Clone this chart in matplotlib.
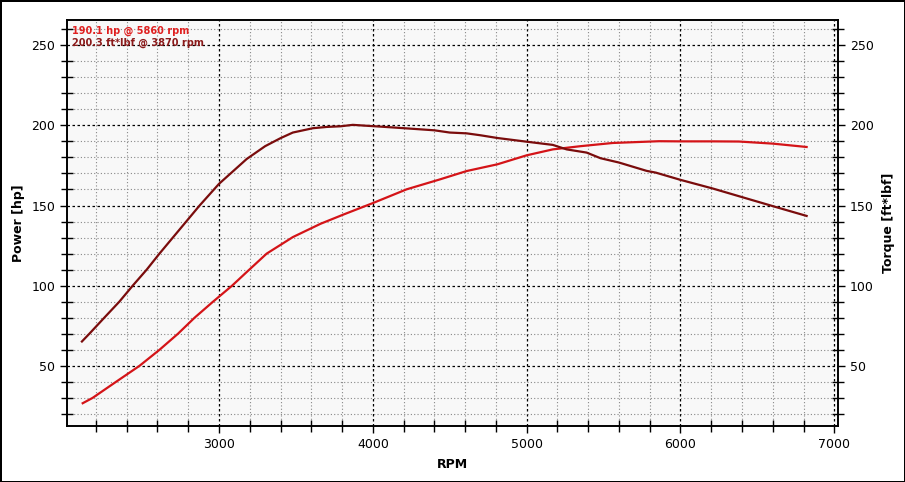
import numpy as np
import matplotlib
matplotlib.use("Agg")
import matplotlib.pyplot as plt
from matplotlib.ticker import MultipleLocator

# dyno run, values
torque_rpm = [2109, 2157, 2254, 2352, 2439, 2530, 2613, 2700, 2787, 2874, 3000, 3180, 3300,
              3400, 3480, 3610, 3700, 3790, 3870, 3950, 4050, 4220, 4400, 4500, 4610, 4700,
              4810, 5000, 5170, 5260, 5390, 5480, 5600, 5780, 5840, 6000, 6210, 6430, 6640, 6820]
torque_val = [65.2, 70.0, 80.0, 90.0, 100.0, 110.0, 120.0, 130.0, 140.0, 150.0, 163.5, 179.0, 187.0,
              192.0, 195.5, 198.2, 199.0, 199.4, 200.3, 199.8, 199.2, 198.1, 196.9, 195.5, 195.0, 193.8,
              192.1, 189.8, 187.8, 185.0, 183.0, 179.5, 176.8, 171.6, 170.5, 166.0, 160.6, 154.4, 148.5, 143.5]

power_rpm = [2114, 2178, 2330, 2483, 2613, 2733, 2841, 2961, 3085, 3180, 3310, 3480, 3660,
             3810, 4000, 4220, 4440, 4610, 4810, 5000, 5170, 5350, 5560, 5780, 5860, 6000,
             6210, 6380, 6600, 6820]
power_val = [26.7, 30.0, 40.0, 50.0, 60.0, 70.0, 80.0, 90.0, 100.0, 108.5, 120.0, 130.3, 138.6,
             144.4, 151.5, 160.1, 166.4, 171.5, 175.7, 181.3, 185.0, 187.0, 189.0, 189.8, 190.1, 190.0,
             190.0, 189.9, 188.6, 186.5]

peak_labels = ["190.1 hp @ 5860 rpm", "200.3 ft*lbf @ 3870 rpm"]

power_color = "#d41418"
torque_color = "#7a0c0c"

fig = plt.figure(figsize=(9.05, 4.82), dpi=100)
fig.patch.set_facecolor("white")
fig.patch.set_edgecolor("black")
fig.patch.set_linewidth(2)

ax = fig.add_axes([67 / 905, 1 - 426 / 482, (838 - 67) / 905, (426 - 19.5) / 482])
ax.set_facecolor("#f8f8f8")

ax.plot(power_rpm, power_val, color=power_color, lw=1.6, zorder=3)
ax.plot(torque_rpm, torque_val, color=torque_color, lw=1.6, zorder=3)

ax.set_xlim(2012, 7024)
ax.set_ylim(12.5, 266)

ax.xaxis.set_major_locator(MultipleLocator(1000))
ax.xaxis.set_minor_locator(MultipleLocator(200))
ax.yaxis.set_major_locator(MultipleLocator(50))
ax.yaxis.set_minor_locator(MultipleLocator(10))

ax.grid(which="minor", color="#888888", linestyle=(0, (1, 2)), lw=0.8)
ax.grid(which="major", color="black", linestyle=(0, (2, 2)), lw=0.9)
ax.set_axisbelow(True)

ax.tick_params(which="major", direction="out", length=5, width=1, labelsize=9)
ax.tick_params(which="minor", direction="inout", length=8, width=1)
for s in ax.spines.values():
    s.set_linewidth(1.2)

ax2 = ax.twinx()
ax2.set_ylim(ax.get_ylim())
ax2.yaxis.set_major_locator(MultipleLocator(50))
ax2.yaxis.set_minor_locator(MultipleLocator(10))
ax2.tick_params(which="major", direction="out", length=5, width=1, labelsize=9)
ax2.tick_params(which="minor", direction="inout", length=8, width=1)
for s in ax2.spines.values():
    s.set_linewidth(1.2)

ax.set_xlabel("RPM", fontsize=9, fontweight="bold", labelpad=5)
ax.set_ylabel("Power [hp]", fontsize=9, fontweight="bold", labelpad=4.5)
ax2.set_ylabel("Torque [ft*lbf]", fontsize=9, fontweight="bold", labelpad=6)

ax.text(0.007, 0.985, peak_labels[0], transform=ax.transAxes, fontsize=7,
        fontweight="bold", color="#e02020", va="top", ha="left")
ax.text(0.007, 0.955, peak_labels[1], transform=ax.transAxes, fontsize=7,
        fontweight="bold", color="#8b1a1a", va="top", ha="left")

fig.savefig("out.png", dpi=100)
